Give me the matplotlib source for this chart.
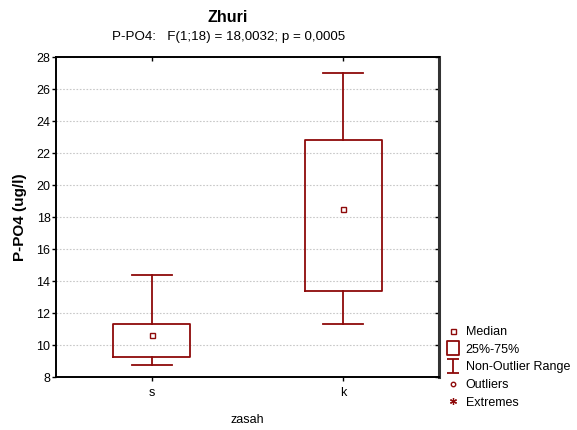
import matplotlib.pyplot as plt
from matplotlib.lines import Line2D
from matplotlib.path import Path

plt.rcParams['font.family'] = ['Liberation Sans', 'DejaVu Sans']

# data
groups = ['s', 'k']
medians = [10.6, 18.5]
q1 = [9.25, 13.35]
q3 = [11.3, 22.8]
whis_lo = [8.75, 11.3]
whis_hi = [14.4, 27.0]

red = '#8E0A0A'

stats = []
for i, g in enumerate(groups):
    stats.append({'label': g, 'med': medians[i], 'q1': q1[i], 'q3': q3[i],
                  'whislo': whis_lo[i], 'whishi': whis_hi[i], 'fliers': []})

fig = plt.figure(figsize=(5.77, 4.30), dpi=100)
ax = fig.add_axes([56 / 577, 53 / 430, 383 / 577, 320 / 430])

ax.bxp(stats, positions=[1, 2], widths=0.4, showfliers=False,
       boxprops=dict(color=red, linewidth=1.3),
       whiskerprops=dict(color=red, linewidth=1.3),
       capprops=dict(color=red, linewidth=1.3),
       capwidths=0.21,
       medianprops=dict(linestyle='none'))
ax.plot([1, 2], medians, 's', color=red, markerfacecolor='white',
        markersize=3.6, markeredgewidth=1.0, linestyle='none')

ax.set_xlim(0.5, 2.5)
ax.set_ylim(8, 28)
ax.set_yticks(range(8, 29, 2))
ax.set_xticks([1, 2])
ax.set_xticklabels(groups)
ax.yaxis.grid(True, linestyle=(0, (1.5, 1.5)), color='#c8c8c8', linewidth=0.8)
ax.set_axisbelow(True)
ax.tick_params(axis='both', labelsize=9, length=3, width=1, direction='in',
               top=True, right=True, pad=4)
ax.tick_params(axis='x', pad=7.5)
# bottom and left ticks point outwards, top and right inwards
for t in ax.xaxis.get_major_ticks():
    t.tick1line.set_marker(3)
for t in ax.yaxis.get_major_ticks():
    t.tick1line.set_marker(0)
for s in ax.spines.values():
    s.set_linewidth(1.4)
ax.spines['right'].set_color('#333333')
ax.spines['right'].set_linewidth(2.2)

ax.set_xlabel('zasah', fontsize=9, labelpad=10.5)
ax.set_ylabel('P-PO4 (ug/l)', fontsize=11, fontweight='bold', labelpad=7)
fig.text(228 / 577, 1 - 18 / 430, 'Zhuri', ha='center', va='center',
         fontsize=11.5, fontweight='bold')
fig.text(229 / 577, 1 - 37 / 430, 'P-PO4:   F(1;18) = 18,0032; p = 0,0005',
         ha='center', va='center', fontsize=9.6)

box_marker = Path([(-0.42, -0.5), (0.42, -0.5), (0.42, 0.5), (-0.42, 0.5), (-0.42, -0.5)],
                  [Path.MOVETO, Path.LINETO, Path.LINETO, Path.LINETO, Path.CLOSEPOLY])
range_marker = Path([(-0.39, 0.5), (0.39, 0.5), (0, 0.5), (0, -0.5), (-0.39, -0.5), (0.39, -0.5)],
                    [Path.MOVETO, Path.LINETO, Path.MOVETO, Path.LINETO,
                     Path.MOVETO, Path.LINETO])
handles = [
    Line2D([], [], marker='s', color=red, markerfacecolor='white',
           markersize=3.6, markeredgewidth=1.0, linestyle='none'),
    Line2D([], [], marker=box_marker, color=red, markerfacecolor='none',
           markersize=9.6, markeredgewidth=1.3, linestyle='none'),
    Line2D([], [], marker=range_marker, color=red, markerfacecolor='none',
           markersize=10.4, markeredgewidth=1.3, linestyle='none'),
    Line2D([], [], marker='o', color=red, markerfacecolor='white',
           markersize=3.2, markeredgewidth=1.0, linestyle='none'),
    Line2D([], [], marker=(6, 2, 0), color=red, markersize=5,
           markeredgewidth=0.9, linestyle='none'),
]
labels = ['Median', '25%-75%', 'Non-Outlier Range', 'Outliers', 'Extremes']
fig.legend(handles, labels, loc='upper left', frameon=False,
           bbox_to_anchor=(441.5 / 577, 1 - 321 / 430), fontsize=9,
           handlelength=1.0, handletextpad=0.54, labelspacing=0.45,
           borderaxespad=0)

fig.savefig('out.png', dpi=100)
